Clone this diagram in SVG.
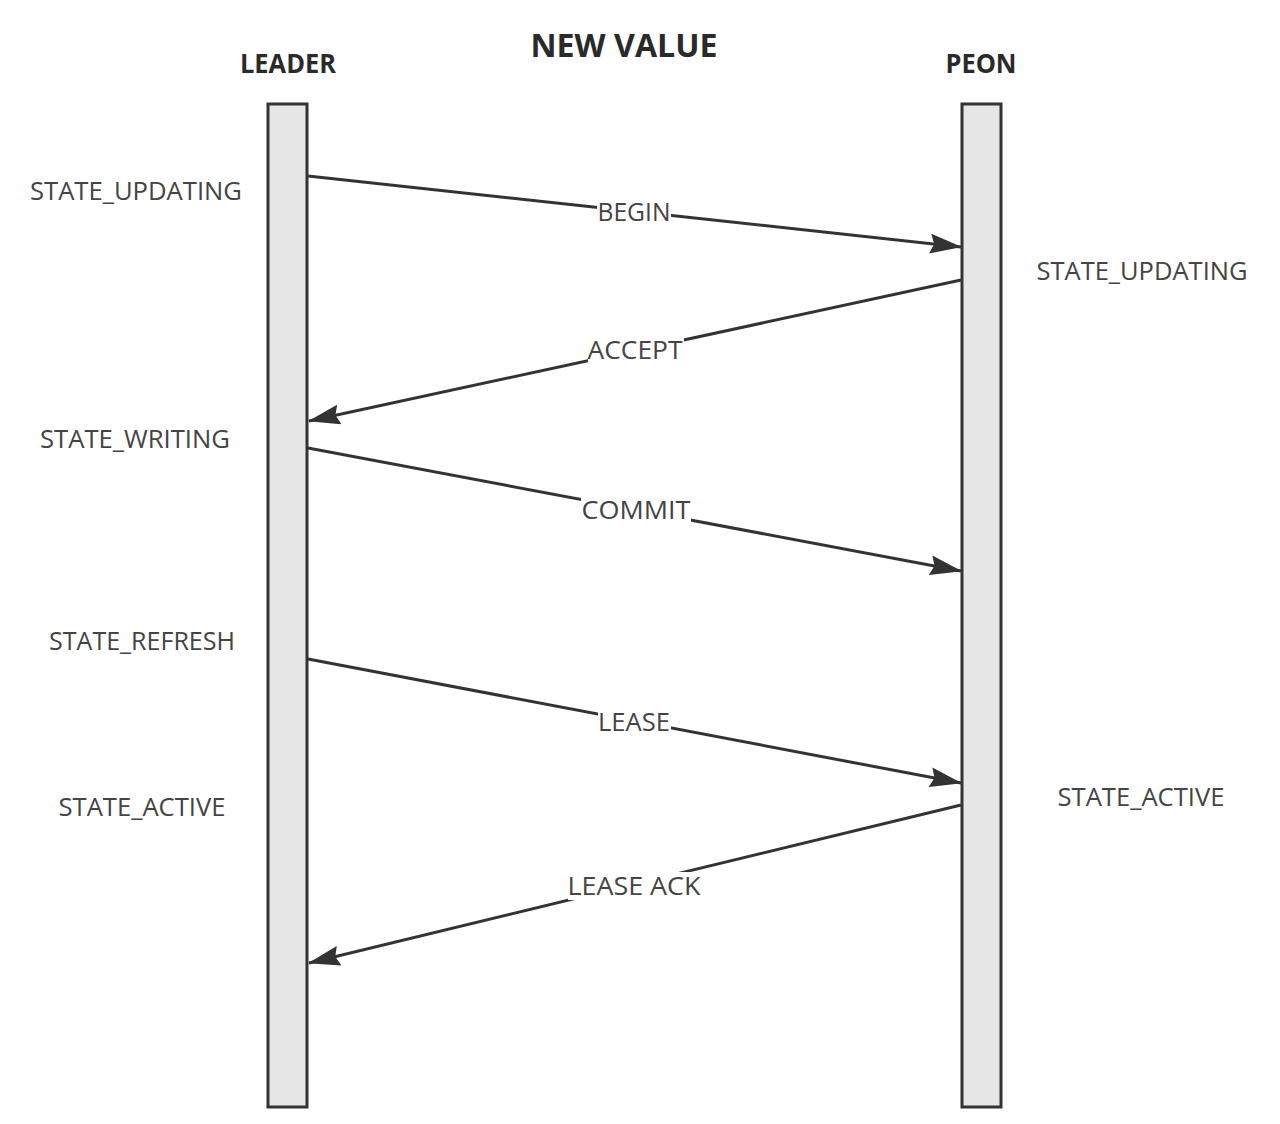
<svg xmlns="http://www.w3.org/2000/svg" width="1280" height="1124" viewBox="0 0 1280 1124">
<style>
.bar{fill:#e6e6e6;stroke:#333;stroke-width:3}
.head{font-family:"Open Sans","Noto Sans",sans-serif;font-weight:bold;fill:#2a2a2a;text-anchor:middle}
.st{font-family:"Open Sans","Noto Sans",sans-serif;font-size:25px;fill:#444;text-anchor:middle}
.msg{stroke:#333;stroke-width:3;fill:none;marker-end:url(#arr)}
.lbg{fill:#fff}
</style>
<defs>
<marker id="arr" viewBox="0 0 32 20" refX="31" refY="10" markerWidth="32" markerHeight="20" markerUnits="userSpaceOnUse" orient="auto">
<path d="M0,0 L32,10 L0,20 L4,10 Z" fill="#333"/>
</marker>
</defs>
<rect width="1280" height="1124" fill="#fff"/>
<text class="head" x="624" y="57" font-size="32" textLength="187" lengthAdjust="spacingAndGlyphs">NEW VALUE</text>
<g id="leader">
<text class="head" x="288" y="73" font-size="26" textLength="96" lengthAdjust="spacingAndGlyphs">LEADER</text>
<rect class="bar" x="268" y="104" width="39" height="1003"/>
</g>
<g id="peon">
<text class="head" x="981" y="73" font-size="26" textLength="71" lengthAdjust="spacingAndGlyphs">PEON</text>
<rect class="bar" x="962" y="104" width="39" height="1003"/>
</g>
<g id="leader-states">
<text class="st" x="136" y="200" textLength="212" lengthAdjust="spacingAndGlyphs">STATE_UPDATING</text>
<text class="st" x="135" y="448" textLength="190" lengthAdjust="spacingAndGlyphs">STATE_WRITING</text>
<text class="st" x="142" y="650" textLength="186" lengthAdjust="spacingAndGlyphs">STATE_REFRESH</text>
<text class="st" x="142" y="816" textLength="167" lengthAdjust="spacingAndGlyphs">STATE_ACTIVE</text>
</g>
<g id="peon-states">
<text class="st" x="1142" y="280" textLength="211" lengthAdjust="spacingAndGlyphs">STATE_UPDATING</text>
<text class="st" x="1141" y="806" textLength="167" lengthAdjust="spacingAndGlyphs">STATE_ACTIVE</text>
</g>
<g id="connectors">
<g id="begin">
<line class="msg" x1="308" y1="176" x2="961" y2="247"/>
<rect class="lbg" x="597" y="198" width="74" height="28"/>
<text class="st" x="634" y="221" textLength="73" lengthAdjust="spacingAndGlyphs">BEGIN</text>
</g>
<g id="accept">
<line class="msg" x1="961" y1="280" x2="309" y2="421"/>
<rect class="lbg" x="588" y="336" width="96" height="28"/>
<text class="st" x="635" y="359" textLength="95" lengthAdjust="spacingAndGlyphs">ACCEPT</text>
</g>
<g id="commit">
<line class="msg" x1="308" y1="448" x2="961" y2="571"/>
<rect class="lbg" x="581" y="496" width="110" height="28"/>
<text class="st" x="636" y="519" textLength="109" lengthAdjust="spacingAndGlyphs">COMMIT</text>
</g>
<g id="lease">
<line class="msg" x1="308" y1="659" x2="961" y2="783"/>
<rect class="lbg" x="598" y="708" width="73" height="28"/>
<text class="st" x="634" y="731" textLength="72" lengthAdjust="spacingAndGlyphs">LEASE</text>
</g>
<g id="leaseack">
<line class="msg" x1="961" y1="805" x2="309" y2="963"/>
<rect class="lbg" x="568" y="872" width="134" height="28"/>
<text class="st" x="634" y="895" textLength="133" lengthAdjust="spacingAndGlyphs">LEASE ACK</text>
</g>
</g>
</svg>
